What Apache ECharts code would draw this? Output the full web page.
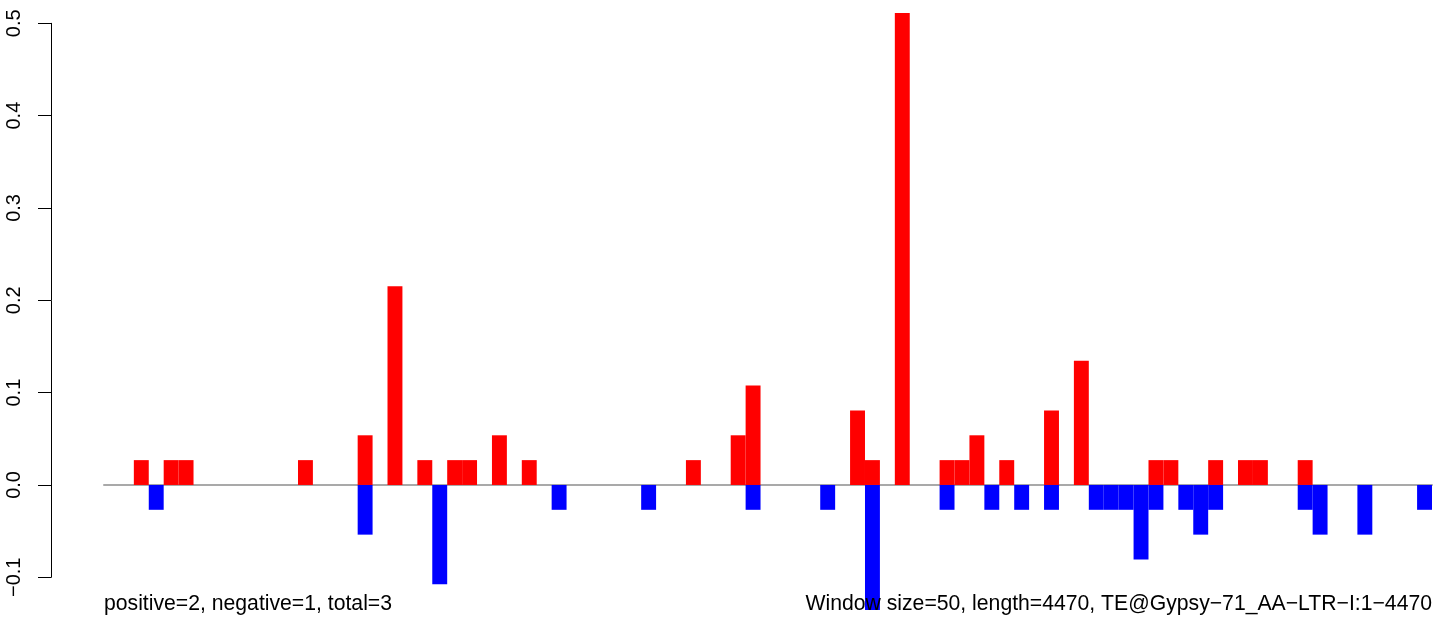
<!DOCTYPE html>
<html>
<head>
<meta charset="utf-8">
<script src="https://cdn.jsdelivr.net/npm/echarts@6/dist/echarts.min.js"></script>
<style>html,body{margin:0;padding:0;background:#fff;}#c{width:1449px;height:624px;}</style>
</head>
<body>
<div id="c"></div>
<script>
// window index (89 windows of 50 bp)
var windows = [];
for (var i = 0; i < 89; i++) windows.push(i + 1);

// positive-strand values per window
var positive = [
  0, 0, 0.0269, 0, 0.0269, 0.0269, 0, 0, 0, 0,
  0, 0, 0, 0.0269, 0, 0, 0, 0.0538, 0, 0.2152,
  0, 0.0269, 0, 0.0269, 0.0269, 0, 0.0538, 0, 0.0269, 0,
  0, 0, 0, 0, 0, 0, 0, 0, 0, 0.0269,
  0, 0, 0.0538, 0.1076, 0, 0, 0, 0, 0, 0,
  0.0807, 0.0269, 0, 0.5111, 0, 0, 0.0269, 0.0269, 0.0538, 0,
  0.0269, 0, 0, 0.0807, 0, 0.1345, 0, 0, 0, 0,
  0.0269, 0.0269, 0, 0, 0.0269, 0, 0.0269, 0.0269, 0, 0,
  0.0269, 0, 0, 0, 0, 0, 0, 0, 0
];

// negative-strand values per window
var negative = [
  0, 0, 0, -0.0269, 0, 0, 0, 0, 0, 0,
  0, 0, 0, 0, 0, 0, 0, -0.0538, 0, 0,
  0, 0, -0.1076, 0, 0, 0, 0, 0, 0, 0,
  -0.0269, 0, 0, 0, 0, 0, -0.0269, 0, 0, 0,
  0, 0, 0, -0.0269, 0, 0, 0, 0, -0.0269, 0,
  0, -0.1355, 0, 0, 0, 0, -0.0269, 0, 0, -0.0269,
  0, -0.0269, 0, -0.0269, 0, 0, -0.0269, -0.0269, -0.0269, -0.0807,
  -0.0269, 0, -0.0269, -0.0538, -0.0269, 0, 0, 0, 0, 0,
  -0.0269, -0.0538, 0, 0, -0.0538, 0, 0, 0, -0.0269
];

var yTicks = [-0.1, 0, 0.1, 0.2, 0.3, 0.4, 0.5];
var leftNote = 'positive=2, negative=1, total=3';
var rightNote = 'Window size=50, length=4470, TE@Gypsy\u221271_AA\u2212LTR\u2212I:1\u22124470';

var FONT = '"Liberation Sans", Arial, Helvetica, sans-serif';
var chart = echarts.init(document.getElementById('c'), null, {renderer: 'canvas'});

function nz(arr) { return arr.map(function (v) { return v === 0 ? '-' : v; }); }

chart.setOption({
  animation: false,
  backgroundColor: '#ffffff',
  grid: {left: 104, right: 17, top: 23.3, bottom: 46.7, containLabel: false},
  xAxis: {
    type: 'category',
    data: windows,
    boundaryGap: true,
    axisLine: {show: true, onZero: true, lineStyle: {color: '#a9a9a9', width: 2}},
    axisTick: {show: false},
    axisLabel: {show: false},
    splitLine: {show: false}
  },
  yAxis: {
    type: 'value',
    min: yTicks[0],
    max: yTicks[yTicks.length - 1],
    interval: 0.1,
    offset: 53,
    axisLine: {show: true, lineStyle: {color: '#000', width: 1}},
    axisTick: {show: true, length: 13, lineStyle: {color: '#000', width: 1}},
    splitLine: {show: false},
    axisLabel: {
      rotate: 90,
      margin: 27,
      fontSize: 20,
      color: '#000',
      fontFamily: FONT,
      formatter: function (v) {
        var s = Math.abs(v).toFixed(1);
        return v < -1e-9 ? '\u2212' + s : s;
      }
    }
  },
  series: [
    {
      name: 'positive',
      type: 'bar',
      data: nz(positive),
      barWidth: '100%',
      barGap: '-100%',
      barCategoryGap: 0,
      clip: false,
      itemStyle: {color: '#ff0000'},
      z: 2
    },
    {
      name: 'negative',
      type: 'bar',
      data: nz(negative),
      barWidth: '100%',
      barGap: '-100%',
      barCategoryGap: 0,
      clip: false,
      itemStyle: {color: '#0000ff'},
      z: 2
    }
  ],
  graphic: [
    {
      type: 'text', left: 104, top: 594, z: 10,
      style: {text: leftNote, font: '21.2px ' + FONT, fill: '#000'}
    },
    {
      type: 'text', right: 17, top: 594, z: 10,
      style: {text: rightNote, font: '21.2px ' + FONT, fill: '#000'}
    }
  ]
});
</script>
</body>
</html>
